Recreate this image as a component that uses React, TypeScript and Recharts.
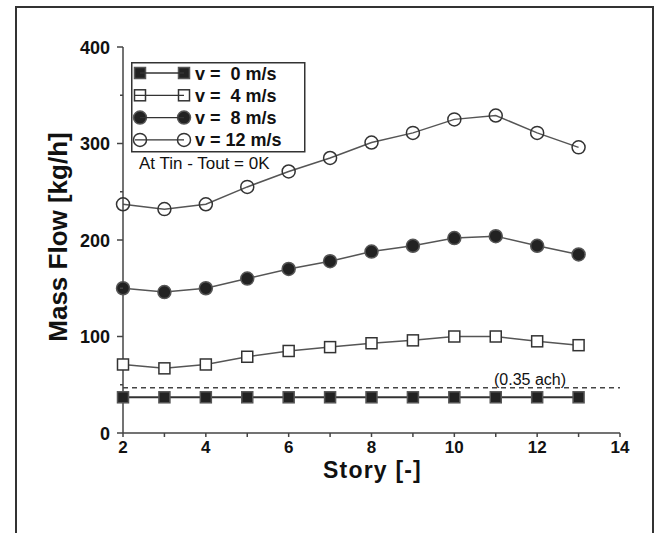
import React from 'react';
import { LineChart, Line, XAxis, YAxis, ReferenceLine, Legend } from 'recharts';

const stories = [2, 3, 4, 5, 6, 7, 8, 9, 10, 11, 12, 13];
const v0 = [37, 37, 37, 37, 37, 37, 37, 37, 37, 37, 37, 37];
const v4 = [71, 67, 71, 79, 85, 89, 93, 96, 100, 100, 95, 91];
const v8 = [150, 146, 150, 160, 170, 178, 188, 194, 202, 204, 194, 185];
const v12 = [237, 232, 237, 255, 271, 285, 301, 311, 325, 329, 311, 296];
const seriesLabels = ['v =  0 m/s', 'v =  4 m/s', 'v =  8 m/s', 'v = 12 m/s'];
const xTicks = [2, 3, 4, 5, 6, 7, 8, 9, 10, 11, 12, 13, 14];
const yTicks = [0, 50, 100, 150, 200, 250, 300, 350, 400];
const achLevel = 47;
const achLabel = '(0.35 ach)';
const noteText = 'At Tin - Tout = 0K';
const xTitle = 'Story [-]';
const yTitle = 'Mass Flow [kg/h]';

const FONT = '"Liberation Sans", Arial, sans-serif';

const data = stories.map((s, i) => ({ story: s, v0: v0[i], v4: v4[i], v8: v8[i], v12: v12[i] }));

type Shape = { kind: 'square' | 'circle'; filled: boolean };
const series: { key: string; label: string; shape: Shape }[] = [
  { key: 'v0', label: seriesLabels[0], shape: { kind: 'square', filled: true } },
  { key: 'v4', label: seriesLabels[1], shape: { kind: 'square', filled: false } },
  { key: 'v8', label: seriesLabels[2], shape: { kind: 'circle', filled: true } },
  { key: 'v12', label: seriesLabels[3], shape: { kind: 'circle', filled: false } },
];

function Marker({ cx, cy, shape }: { cx: number; cy: number; shape: Shape }) {
  if (cx == null || cy == null) return null;
  if (shape.kind === 'square') {
    const s = 11;
    return (
      <rect x={cx - s / 2} y={cy - s / 2} width={s} height={s}
        fill={shape.filled ? '#222' : '#fff'} stroke={shape.filled ? '#555' : '#333'} strokeWidth={1.5} />
    );
  }
  return (
    <circle cx={cx} cy={cy} r={6.5} fill={shape.filled ? '#222' : 'none'}
      stroke={shape.filled ? '#555' : '#333'} strokeWidth={1.5} />
  );
}

const XTick = (props: any) => {
  const { x, y, payload } = props;
  const major = payload.value % 2 === 0;
  return (
    <g>
      <line x1={x} x2={x} y1={y} y2={y + 4} stroke="#444" strokeWidth={1.5} />
      {major && (
        <text x={x} y={y + 20} textAnchor="middle" fontSize={17} fontWeight="bold" fontFamily={FONT} fill="#111">
          {payload.value}
        </text>
      )}
    </g>
  );
};

const YTick = (props: any) => {
  const { x, y, payload } = props;
  const major = payload.value % 100 === 0;
  return (
    <g>
      <line x1={x - (major ? 6 : 3)} x2={x} y1={y} y2={y} stroke="#444" strokeWidth={1.5} />
      {major && (
        <text x={x - 13} y={y + 6.5} textAnchor="end" fontSize={18} fontWeight="bold" fontFamily={FONT} fill="#111">
          {payload.value}
        </text>
      )}
    </g>
  );
};

const LegendBox = () => {
  const rowY = (i: number) => 11 + i * 22.3;
  return (
    <svg width={178} height={118} style={{ overflow: 'visible', display: 'block' }}>
      <rect x={0.75} y={0.75} width={173} height={89} fill="#fff" stroke="#333" strokeWidth={1.5} />
      {series.map((s, i) => (
        <g key={s.key}>
          <Marker cx={9} cy={rowY(i)} shape={s.shape} />
          <Marker cx={53} cy={rowY(i)} shape={s.shape} />
          <line x1={s.shape.filled ? 9 : 4} x2={53} y1={rowY(i)} y2={rowY(i)} stroke="#333" strokeWidth={1.3} />
          <text x={64} y={rowY(i) + 6.5} fontSize={18} fontWeight="bold" fontFamily={FONT} fill="#111"
            style={{ whiteSpace: 'pre' }}>
            {s.label}
          </text>
        </g>
      ))}
      <text x={8} y={107} fontSize={17} fontFamily={FONT} fill="#111">{noteText}</text>
    </svg>
  );
};

const AchLabel = (props: any) => {
  const vb = props.viewBox || { x: 123, y: 386, width: 497 };
  return (
    <text x={vb.x + vb.width * 0.819} y={vb.y - 3} textAnchor="middle" fontSize={16} fontFamily={FONT} fill="#111">
      {achLabel}
    </text>
  );
};

const YTitle = (props: any) => {
  const vb = props.viewBox || { x: 0, y: 47, width: 123, height: 386 };
  const cx = vb.x + 58;
  const cy = vb.y + vb.height / 2 - 3;
  return (
    <text x={cx} y={cy} transform={`rotate(-90 ${cx} ${cy})`} textAnchor="middle" dominantBaseline="central"
      fontSize={26} fontWeight="bold" fontFamily={FONT} fill="#111">
      {yTitle}
    </text>
  );
};

const XTitle = (props: any) => {
  const vb = props.viewBox || { x: 123, y: 433, width: 497, height: 100 };
  return (
    <text x={vb.x + vb.width / 2 + 1} y={vb.y + 45} textAnchor="middle" fontSize={23} fontWeight="bold"
      letterSpacing={1.2} fontFamily={FONT} fill="#111">
      {xTitle}
    </text>
  );
};

export default function App() {
  return (
    <div style={{ position: 'absolute', left: 0, top: 0, width: 657, height: 533, background: '#fff', overflow: 'hidden' }}>
      <style>{`body{margin:0;overflow:hidden;background:#fff}`}</style>
      <div style={{ position: 'absolute', left: 15, top: 6, width: 639, height: 540, boxSizing: 'border-box',
        borderLeft: '2px solid #333', borderTop: '2px solid #333', borderRight: '2px solid #333' }} />
      <div style={{ position: 'absolute', left: 0, top: 0 }}>
        <LineChart width={657} height={533} data={data} margin={{ top: 47, right: 37, bottom: 0, left: 0 }}>
          <XAxis dataKey="story" type="number" domain={[2, 14]} ticks={xTicks} interval={0}
            tick={<XTick />} tickLine={false} tickSize={0} tickMargin={0} height={100}
            axisLine={{ stroke: '#444', strokeWidth: 1.5 }} label={<XTitle />} allowDecimals={false} />
          <XAxis xAxisId="top" orientation="top" dataKey="story" type="number" domain={[2, 14]} tick={false}
            tickLine={false} height={0} axisLine={{ stroke: '#444', strokeWidth: 1.5 }} />
          <YAxis type="number" domain={[0, 400]} ticks={yTicks} interval={0} tick={<YTick />} tickLine={false}
            tickSize={0} tickMargin={0} width={123} axisLine={{ stroke: '#444', strokeWidth: 1.5 }} label={<YTitle />} />
          <YAxis yAxisId="right" orientation="right" type="number" domain={[0, 400]} tick={false} tickLine={false}
            width={0} axisLine={{ stroke: '#444', strokeWidth: 1.5 }} />
          <ReferenceLine y={achLevel} stroke="#444" strokeWidth={1.5} strokeDasharray="5 4" label={<AchLabel />} />
          <Legend layout="horizontal" verticalAlign="middle" align="center" content={<LegendBox />}
            wrapperStyle={{ left: 131, top: 62, width: 178, height: 118 }} />
          {series.map((s) => (
            <Line key={s.key} dataKey={s.key} name={s.label} isAnimationActive={false}
              stroke={s.key === 'v0' ? '#333' : '#555'} strokeWidth={s.key === 'v0' ? 2 : 1.5}
              dot={(p: any) => <Marker key={`${s.key}-${p.index}`} cx={p.cx} cy={p.cy} shape={s.shape} />}
              activeDot={false} />
          ))}
        </LineChart>
      </div>
    </div>
  );
}
